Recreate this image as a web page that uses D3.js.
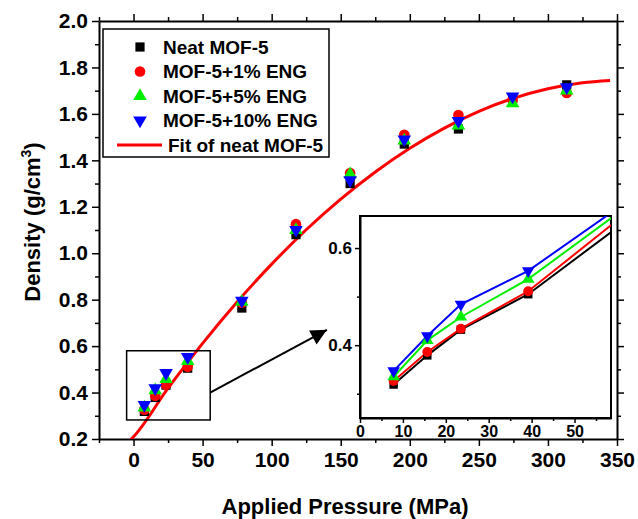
<!DOCTYPE html>
<html><head><meta charset="utf-8">
<script src="https://cdn.jsdelivr.net/npm/d3@7"></script>
<style>
body{margin:0;background:#fff;}
text{font-family:"Liberation Sans",Arial,sans-serif;font-weight:bold;fill:#000;}
</style></head>
<body><svg id="c" width="638" height="519"></svg>
<script>
// ---- data ----
const pressure = [7.84, 15.68, 23.52, 39.2, 78.4, 117.6, 156.8, 196, 235.2, 274.4, 313.6];
const neat   = [0.319, 0.379, 0.432, 0.505, 0.764, 1.080, 1.300, 1.470, 1.535, 1.665, 1.725];
const eng1   = [0.326, 0.386, 0.434, 0.511, 0.787, 1.125, 1.345, 1.510, 1.595, 1.660, 1.690];
const eng5   = [0.335, 0.410, 0.458, 0.536, 0.791, 1.100, 1.340, 1.485, 1.550, 1.645, 1.700];
const eng10  = [0.347, 0.419, 0.484, 0.553, 0.796, 1.100, 1.315, 1.490, 1.570, 1.675, 1.715];
const fitX = [-2, 0, 25, 50, 75, 100, 125, 150, 175, 200, 225, 250, 275, 300, 325, 345];
const fitY = [0.198, 0.210, 0.419, 0.612, 0.790, 0.953, 1.101, 1.233, 1.350, 1.452, 1.539, 1.611, 1.667, 1.708, 1.734, 1.744];
const xTicks = [0, 50, 100, 150, 200, 250, 300, 350];
const yTicks = [0.2, 0.4, 0.6, 0.8, 1.0, 1.2, 1.4, 1.6, 1.8, 2.0];
const insetXTicks = [0, 10, 20, 30, 40, 50];
const insetYTicks = [0.4, 0.6];
const seriesNames = ["Neat MOF-5", "MOF-5+1% ENG", "MOF-5+5% ENG", "MOF-5+10% ENG"];
const fitName = "Fit of neat MOF-5";

// ---- styles ----
const colors = ["#000000", "#ff0000", "#00ee00", "#0000ff"];
const series = [neat, eng1, eng5, eng10];
const symbols = [
  {type: d3.symbolSquare, size: 85, rot: 0},
  {type: d3.symbolCircle, size: 90, rot: 0},
  {type: d3.symbolTriangle, size: 80, rot: 0},
  {type: d3.symbolTriangle, size: 80, rot: 180}
];

const svg = d3.select("#c");
svg.append("rect").attr("width", 638).attr("height", 519).attr("fill", "#fff");

const x = d3.scaleLinear().domain([-25, 350]).range([99, 617]);
const y = d3.scaleLinear().domain([0.2, 2.0]).range([439, 21]);

const defs = svg.append("defs");
defs.append("clipPath").attr("id", "mainclip").append("rect")
  .attr("x", x.range()[0]).attr("y", y.range()[1])
  .attr("width", x.range()[1] - x.range()[0]).attr("height", y.range()[0] - y.range()[1]);

function styleAxis(g, lw) {
  g.select(".domain").attr("stroke-width", lw || 2).attr("stroke", "#000");
  g.selectAll(".tick line").attr("stroke-width", 1.5).attr("stroke", "#000");
}

// minor ticks
const xMinor = d3.range(-25, 351, 25).filter(v => !xTicks.includes(v));
const yMinor = d3.range(0.3, 2.0, 0.2).map(v => +v.toFixed(2));

// bottom
const gB = svg.append("g").attr("transform", `translate(0,${y.range()[0]})`)
  .call(d3.axisBottom(x).tickValues(xTicks).tickSize(7).tickPadding(6).tickSizeOuter(0).tickFormat(d3.format("d")));
gB.selectAll("text").attr("font-size", 21).attr("font-family", "Liberation Sans, Arial").attr("font-weight", "bold");
styleAxis(gB);
svg.append("g").attr("transform", `translate(0,${y.range()[0]})`)
  .call(d3.axisBottom(x).tickValues(xMinor).tickSize(4).tickFormat("").tickSizeOuter(0))
  .call(g => { g.select(".domain").remove(); g.selectAll("line").attr("stroke-width", 1.5); });
// top
const gT = svg.append("g").attr("transform", `translate(0,${y.range()[1]})`)
  .call(d3.axisTop(x).tickValues(xTicks).tickSize(7).tickFormat("").tickSizeOuter(0));
styleAxis(gT);
svg.append("g").attr("transform", `translate(0,${y.range()[1]})`)
  .call(d3.axisTop(x).tickValues(xMinor).tickSize(4).tickFormat("").tickSizeOuter(0))
  .call(g => { g.select(".domain").remove(); g.selectAll("line").attr("stroke-width", 1.5); });
// left
const gL = svg.append("g").attr("transform", `translate(${x.range()[0]},0)`)
  .call(d3.axisLeft(y).tickValues(yTicks).tickSize(7).tickPadding(4).tickSizeOuter(0).tickFormat(d3.format(".1f")));
gL.selectAll("text").attr("font-size", 21).attr("font-family", "Liberation Sans, Arial").attr("font-weight", "bold");
styleAxis(gL);
svg.append("g").attr("transform", `translate(${x.range()[0]},0)`)
  .call(d3.axisLeft(y).tickValues(yMinor).tickSize(4).tickFormat("").tickSizeOuter(0))
  .call(g => { g.select(".domain").remove(); g.selectAll("line").attr("stroke-width", 1.5); });
// right
const gR = svg.append("g").attr("transform", `translate(${x.range()[1]},0)`)
  .call(d3.axisRight(y).tickValues(yTicks).tickSize(7).tickFormat("").tickSizeOuter(0));
styleAxis(gR);
svg.append("g").attr("transform", `translate(${x.range()[1]},0)`)
  .call(d3.axisRight(y).tickValues(yMinor).tickSize(4).tickFormat("").tickSizeOuter(0))
  .call(g => { g.select(".domain").remove(); g.selectAll("line").attr("stroke-width", 1.5); });

// axis titles
svg.append("text").attr("x", 345).attr("y", 514).attr("text-anchor", "middle")
  .attr("font-size", 22).text("Applied Pressure (MPa)");
const yt = svg.append("text").attr("transform", "translate(40,222) rotate(-90)")
  .attr("text-anchor", "middle").attr("font-size", 22);
yt.append("tspan").text("Density (g/cm");
yt.append("tspan").attr("font-size", 14).attr("dy", -9).text("3");
yt.append("tspan").attr("dy", 9).text(")");

// fit line
const main = svg.append("g").attr("clip-path", "url(#mainclip)");
main.append("path").datum(fitX.map((v, i) => [v, fitY[i]]))
  .attr("fill", "none").attr("stroke", "#ff0000").attr("stroke-width", 3)
  .attr("d", d3.line().x(d => x(d[0])).y(d => y(d[1])).curve(d3.curveMonotoneX));

// points
series.forEach((s, k) => {
  const sym = d3.symbol().type(symbols[k].type).size(symbols[k].size);
  main.append("g").selectAll("path").data(s.map((v, i) => [pressure[i], v])).join("path")
    .attr("d", sym)
    .attr("transform", d => `translate(${x(d[0])},${y(d[1])}) rotate(${symbols[k].rot})`)
    .attr("fill", colors[k]);
});

// zoom box
const box = {x0: -5, x1: 55.5, y0: 0.282, y1: 0.58};
svg.append("rect").attr("x", x(box.x0)).attr("y", y(box.y1))
  .attr("width", x(box.x1) - x(box.x0)).attr("height", y(box.y0) - y(box.y1))
  .attr("fill", "none").attr("stroke", "#000").attr("stroke-width", 1.5);

// arrow
defs.append("marker").attr("id", "arr").attr("viewBox", "0 0 10 10").attr("refX", 10).attr("refY", 5)
  .attr("markerWidth", 9).attr("markerHeight", 8).attr("markerUnits", "strokeWidth").attr("orient", "auto")
  .append("path").attr("d", "M0,0 L10,5 L0,10 Z").attr("fill", "#000");
const arrow = {x0: 55.5, y0: 0.4, x1: 140, y1: 0.67};
svg.append("line").attr("x1", x(arrow.x0)).attr("y1", y(arrow.y0))
  .attr("x2", x(arrow.x1)).attr("y2", y(arrow.y1))
  .attr("stroke", "#000").attr("stroke-width", 2).attr("marker-end", "url(#arr)");

// ---- inset ----
const ix = d3.scaleLinear().domain([0, 58.5]).range([360, 611]);
const iy = d3.scaleLinear().domain([0.25, 0.666]).range([418, 216]);
defs.append("clipPath").attr("id", "insclip").append("rect")
  .attr("x", ix.range()[0]).attr("y", iy.range()[1])
  .attr("width", ix.range()[1] - ix.range()[0]).attr("height", iy.range()[0] - iy.range()[1]);
svg.append("rect").attr("x", ix.range()[0]).attr("y", iy.range()[1])
  .attr("width", ix.range()[1] - ix.range()[0]).attr("height", iy.range()[0] - iy.range()[1])
  .attr("fill", "#fff").attr("stroke", "#000").attr("stroke-width", 2);
const gIB = svg.append("g").attr("transform", `translate(0,${iy.range()[0]})`)
  .call(d3.axisBottom(ix).tickValues(insetXTicks).tickSize(5).tickPadding(3).tickSizeOuter(0));
gIB.selectAll("text").attr("font-size", 16).attr("font-family", "Liberation Sans, Arial").attr("font-weight", "bold");
styleAxis(gIB);
svg.append("g").attr("transform", `translate(0,${iy.range()[0]})`)
  .call(d3.axisBottom(ix).tickValues(d3.range(5, 58, 10)).tickSize(3).tickFormat("").tickSizeOuter(0))
  .call(g => { g.select(".domain").remove(); g.selectAll("line").attr("stroke-width", 1.5); });
const gIL = svg.append("g").attr("transform", `translate(${ix.range()[0]},0)`)
  .call(d3.axisLeft(iy).tickValues(insetYTicks).tickSize(5).tickPadding(3).tickSizeOuter(0).tickFormat(d3.format(".1f")));
gIL.selectAll("text").attr("font-size", 17).attr("font-family", "Liberation Sans, Arial").attr("font-weight", "bold");
styleAxis(gIL);
svg.append("g").attr("transform", `translate(${ix.range()[0]},0)`)
  .call(d3.axisLeft(iy).tickValues([0.3, 0.5]).tickSize(3).tickFormat("").tickSizeOuter(0))
  .call(g => { g.select(".domain").remove(); g.selectAll("line").attr("stroke-width", 1.5); });

const ins = svg.append("g").attr("clip-path", "url(#insclip)");
const iline = d3.line().x(d => ix(d[0])).y(d => iy(d[1]));
series.forEach((s, k) => {
  const pts = s.map((v, i) => [pressure[i], v]);
  ins.append("path").datum(pts).attr("fill", "none").attr("stroke", colors[k]).attr("stroke-width", 2).attr("d", iline);
});
series.forEach((s, k) => {
  const sym = d3.symbol().type(symbols[k].type).size(symbols[k].size * 0.85);
  ins.append("g").selectAll("path").data(s.map((v, i) => [pressure[i], v])).join("path")
    .attr("d", sym)
    .attr("transform", d => `translate(${ix(d[0])},${iy(d[1])}) rotate(${symbols[k].rot})`)
    .attr("fill", colors[k]);
});

// ---- legend ----
const lg = svg.append("g");
lg.append("rect").attr("x", 103).attr("y", 29).attr("width", 226).attr("height", 128)
  .attr("fill", "#fff").attr("stroke", "#000").attr("stroke-width", 1.5);
seriesNames.forEach((name, k) => {
  const cy = 47 + k * 24.5;
  lg.append("path").attr("d", d3.symbol().type(symbols[k].type).size(symbols[k].size)())
    .attr("transform", `translate(140,${cy}) rotate(${symbols[k].rot})`).attr("fill", colors[k]);
  lg.append("text").attr("x", 163).attr("y", cy).attr("dy", "0.35em").attr("font-size", 19).text(name);
});
lg.append("line").attr("x1", 117).attr("x2", 162).attr("y1", 145).attr("y2", 145)
  .attr("stroke", "#ff0000").attr("stroke-width", 3);
lg.append("text").attr("x", 168).attr("y", 145).attr("dy", "0.35em").attr("font-size", 19).text(fitName);
</script></body></html>
